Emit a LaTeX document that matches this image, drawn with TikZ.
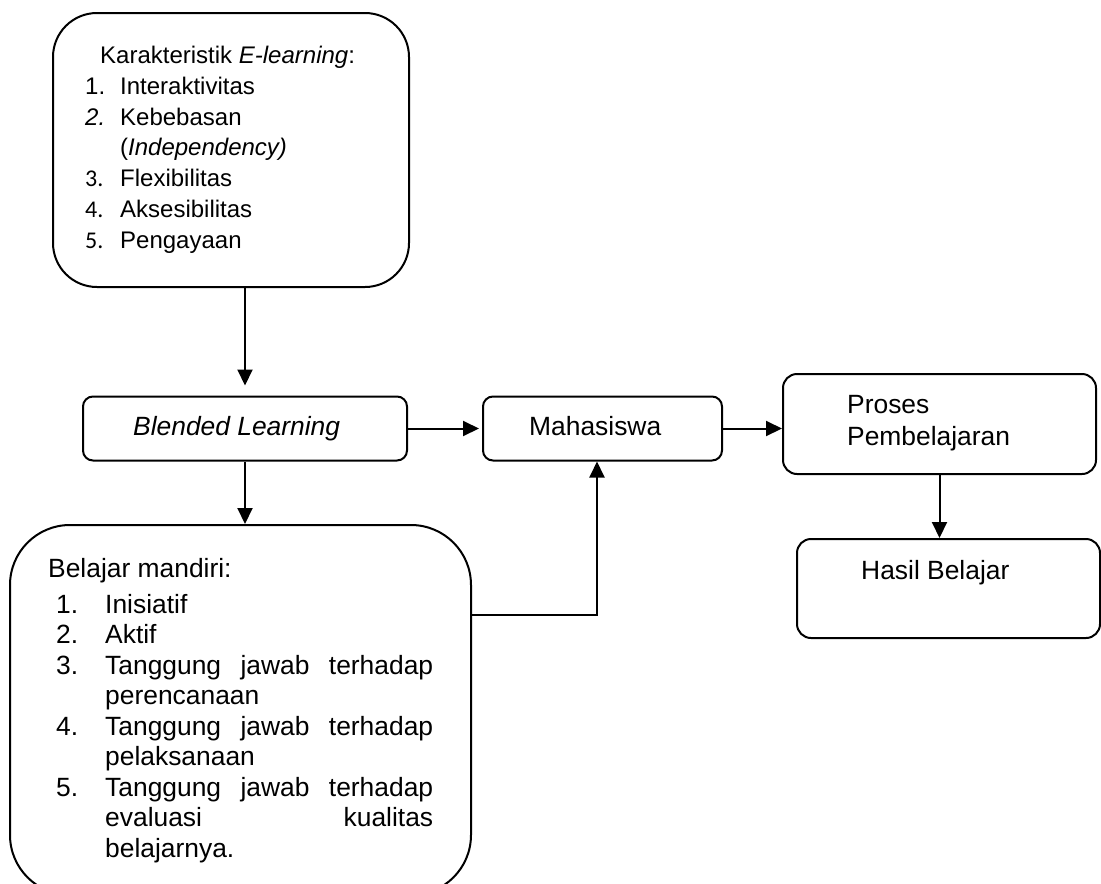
\documentclass[tikz,border=0pt]{standalone}
\usepackage{fontspec}
\setmainfont{Liberation Sans}
\newfontfamily\calfont{Carlito}
\usetikzlibrary{arrows.meta}

\begin{document}
\begin{tikzpicture}[x=1pt,y=-1pt,
  rbox/.style={draw,line width=2pt,rounded corners=#1,inner sep=0pt},
  rbox/.default=10pt,
  txt/.style={anchor=base west,inner sep=0pt,align=left,font=\fontsize{26.4}{30.5}\selectfont},
  arr/.style={line width=2pt,-{Triangle[length=16pt,width=15pt]}}]
  \useasboundingbox (0,0) rectangle (1101,884);
  % boxes
  \node[rbox=44pt,minimum width=356pt,minimum height=274pt] (karak) at (231,150) {};
  \node[rbox,minimum width=324pt,minimum height=64pt] (blended) at (245,428.5) {};
  \node[rbox,minimum width=239pt,minimum height=64pt] (mhs) at (602.5,428.5) {};
  \node[rbox=14pt,minimum width=313pt,minimum height=100pt] (proses) at (939.5,424) {};
  \node[rbox=14pt,minimum width=303pt,minimum height=99pt] (hasil) at (948.5,588.5) {};
  \node[rbox=60pt,minimum width=461pt,minimum height=370pt] (mandiri) at (240.5,710) {};
  % texts (base = last line)
  \node[txt,font=\fontsize{24}{30.7}\selectfont] (karakT) at (85,248) {\hspace*{15pt}Karakteristik \textit{E-learning}:\\
    \makebox[35pt][l]{1.}Interaktivitas\\
    \makebox[35pt][l]{\textit{2.}}Kebebasan\\
    \hspace*{35pt}(\textit{Independency)}\\
    \makebox[35pt][l]{\calfont 3.}Flexibilitas\\
    \makebox[35pt][l]{\calfont 4.}Aksesibilitas\\
    \makebox[35pt][l]{\calfont 5.}Pengayaan};
  \node[txt] (blendedT) at (133,435) {\textit{Blended Learning}};
  \node[txt] (mhsT) at (529,435) {Mahasiswa};
  \node[txt,font=\fontsize{26.4}{32}\selectfont] (prosesT) at (847,445) {Proses\\Pembelajaran};
  \node[txt] (hasilT) at (861,579) {Hasil Belajar};
  \node[txt] (mandiriT) at (48,857) {Belajar mandiri:\\[5.5pt]
    \hspace*{8pt}\makebox[49pt][l]{1.}Inisiatif\\
    \hspace*{8pt}\makebox[49pt][l]{2.}Aktif\\
    \hspace*{8pt}\makebox[49pt][l]{3.}\makebox[328pt][s]{Tanggung jawab terhadap}\\
    \hspace*{57pt}perencanaan\\
    \hspace*{8pt}\makebox[49pt][l]{4.}\makebox[328pt][s]{Tanggung jawab terhadap}\\
    \hspace*{57pt}pelaksanaan\\
    \hspace*{8pt}\makebox[49pt][l]{5.}\makebox[328pt][s]{Tanggung jawab terhadap}\\
    \hspace*{57pt}\makebox[328pt][s]{evaluasi kualitas}\\
    \hspace*{57pt}belajarnya.};
  % arrows
  \coordinate (bend) at (597,615);
  \draw[arr,shorten >=10pt] (karak.south -| blended.north) -- (blended.north);
  \draw[arr,shorten >=3pt] (blended) -- (mhs);
  \draw[arr] (mhs.east) -- (mhs.east -| proses.west);
  \draw[arr] (proses.south) -- (proses.south |- hasil.north);
  \draw[arr] (blended.south) -- (blended.south |- mandiri.north);
  \draw[arr] (bend -| mandiri.east) -- (bend) -- (bend |- mhs.south);
\end{tikzpicture}
\end{document}
